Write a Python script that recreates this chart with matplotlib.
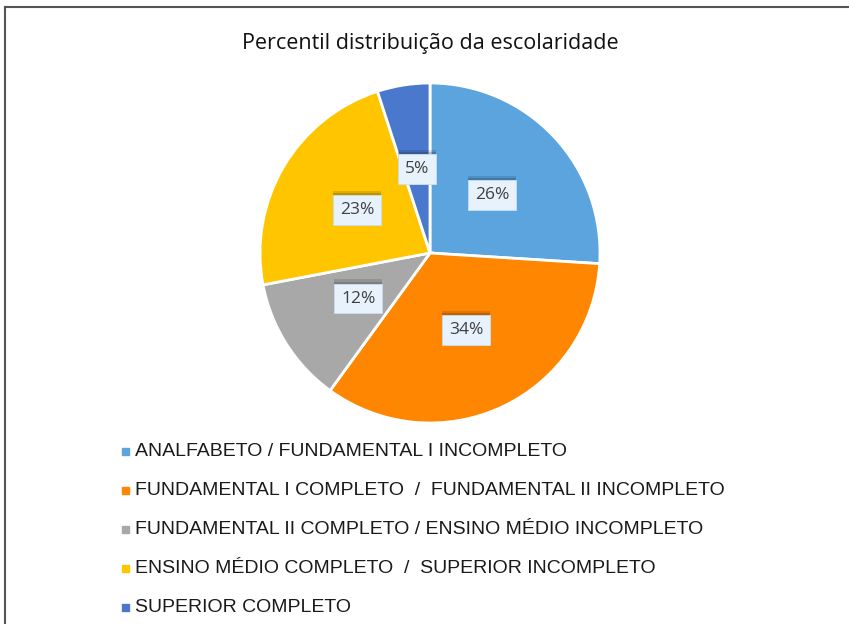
import numpy as np
import matplotlib.pyplot as plt
import matplotlib.patheffects as pe

# data
categories = [
    "ANALFABETO / FUNDAMENTAL I INCOMPLETO",
    "FUNDAMENTAL I COMPLETO  /  FUNDAMENTAL II INCOMPLETO",
    "FUNDAMENTAL II COMPLETO / ENSINO MÉDIO INCOMPLETO",
    "ENSINO MÉDIO COMPLETO  /  SUPERIOR INCOMPLETO",
    "SUPERIOR COMPLETO",
]
values = [26, 34, 12, 23, 5]
colors = ["#5BA4DE", "#FF8600", "#A8A8A8", "#FFC600", "#4A78CC"]

W, H = 849, 624
fig = plt.figure(figsize=(W / 100, H / 100), dpi=100)
fig.patch.set_facecolor("white")

# frame lines (top and left, like a cropped chart border)
fig.add_artist(plt.Line2D([5 / W, 1], [1 - 7 / H, 1 - 7 / H], color="#555555", lw=1.5))
fig.add_artist(plt.Line2D([5 / W, 5 / W], [0, 1 - 7 / H], color="#555555", lw=1.5))

fig.text(430 / W, 1 - 43 / H, "Percentil distribuição da escolaridade",
         ha="center", va="center", fontsize=15.5, family="Open Sans", color="#111111")

# pie
cx, cy, r = 430, 253, 170
ax = fig.add_axes([(cx - r) / W, (H - cy - r) / H, 2 * r / W, 2 * r / H])
wedges, texts, autotexts = ax.pie(
    values, colors=colors, startangle=90, counterclock=False,
    autopct="%d%%", pctdistance=0.5,
    wedgeprops=dict(edgecolor="white", linewidth=2),
    textprops=dict(fontsize=12.5, family="Open Sans", color="#404040"),
)
ax.set_xlim(-1, 1)
ax.set_ylim(-1, 1)
ax.set_aspect("equal")
ax.axis("off")

# label boxes with a soft shadow on top
for t in autotexts:
    t.set_bbox(dict(boxstyle="square,pad=0.4", facecolor="#E8F2FC",
                    edgecolor="#C9DFF3", linewidth=0.6))
    t.get_bbox_patch().set_path_effects([
        pe.SimplePatchShadow(offset=(0, 3), shadow_rgbFace="black", alpha=0.12),
        pe.SimplePatchShadow(offset=(0, 1.5), shadow_rgbFace="black", alpha=0.15),
        pe.Normal()])

# legend
y0, dy = 451, 39.2
for i, (lab, c) in enumerate(zip(categories, colors)):
    yy = 1 - (y0 + i * dy) / H
    fig.add_artist(plt.Rectangle((122 / W, yy - 3.5 / H), 7 / W, 7 / H, color=c, transform=fig.transFigure))
    fig.text(135 / W, yy, lab, ha="left", va="center", fontsize=14,
             family="Liberation Sans", color="#1a1a1a")

fig.savefig("out.png", dpi=100)
